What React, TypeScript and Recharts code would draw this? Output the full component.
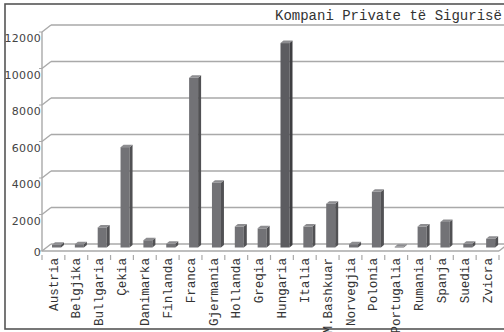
import { BarChart, Bar, XAxis, YAxis, CartesianGrid, Cell, Customized } from "recharts";

const countries = [
  "Austria", "Belgjika", "Bullgaria", "Çekia", "Danimarka", "Finlanda", "Franca",
  "Gjermania", "Hollanda", "Greqia", "Hungaria", "Italia", "M.Bashkuar", "Norvegjia",
  "Polonia", "Portugalia", "Rumania", "Spanja", "Suedia", "Zvicra",
];
const companies = [
  150, 180, 1100, 5500, 400, 200, 9300,
  3550, 1150, 1050, 11200, 1150, 2400, 180,
  3050, 40, 1150, 1400, 200, 480,
];
const yTicks = [0, 2000, 4000, 6000, 8000, 10000, 12000];
const seriesName = "Kompani Private të Sigurisë";

const data = countries.map((c, i) => ({ name: c, value: companies[i] }));

const DX = 9; // depth of the 3D wall
const DY = 7;
const GRID = "#a9a9a9";
const MONO = "'Liberation Mono', monospace";

const Bar3D = (props: any) => {
  const { x, y, width, height, fill } = props;
  if (height == null || isNaN(height)) return null;
  const bx = x + 3;
  const by = y - 3.5;
  const d = 3;
  const e = 2.5;
  const side = fill === "#5c5c60" ? "#3f3f42" : "#515154";
  return (
    <g>
      <rect x={bx} y={by} width={width} height={height} fill={fill} />
      <polygon
        points={`${bx + width},${by} ${bx + width + d},${by - e} ${bx + width + d},${by + height - e} ${bx + width},${by + height}`}
        fill={side}
      />
      <polygon
        points={`${bx},${by} ${bx + d},${by - e} ${bx + width + d},${by - e} ${bx + width},${by}`}
        fill="#8d8d90"
      />
    </g>
  );
};

const gridLine = (p: any) => {
  const { x1, x2, y1, index } = p;
  const isFloor = index === 0;
  return (
    <g key={`g-${index}`}>
      <line x1={x1 + DX} y1={y1 - DY} x2={x2 + DX} y2={y1 - DY} stroke={GRID} strokeWidth={1.6} />
      <line x1={x1} y1={y1} x2={x1 + DX} y2={y1 - DY} stroke={GRID} strokeWidth={1.4} />
      {isFloor && (
        <line x1={x2} y1={y1} x2={x2 + DX} y2={y1 - DY} stroke={GRID} strokeWidth={1.4} />
      )}
    </g>
  );
};

const XTick = (props: any) => {
  const { x, y, payload, index, visibleTicksCount } = props;
  const half = payload?.offset ?? 11.4;
  const last = index === (visibleTicksCount ?? countries.length) - 1;
  const ty = y - 1;
  return (
    <g>
      <line x1={x - half} y1={y - 4} x2={x - half} y2={y + 1} stroke={GRID} strokeWidth={1.2} />
      {last && <line x1={x + half} y1={y - 4} x2={x + half} y2={y + 1} stroke={GRID} strokeWidth={1.2} />}
      <text
        x={x}
        y={ty}
        dy="0.33em"
        transform={`rotate(-90, ${x}, ${ty})`}
        textAnchor="end"
        fontFamily={MONO}
        fontSize={12.6}
        fill="#333"
      >
        {payload.value}
      </text>
    </g>
  );
};

const YTick = (props: any) => {
  const { y, payload } = props;
  const off = payload.value === 0 ? 1 : 6.5;
  return (
    <text
      x={41}
      y={y + off}
      dy="0.35em"
      textAnchor="end"
      fontFamily="'DejaVu Sans', sans-serif"
      fontSize={11}
      letterSpacing={0.3}
      fill="#444"
    >
      {payload.value}
    </text>
  );
};

const Frame = () => (
  <g>
    <rect x={5} y={4} width={520} height={325} fill="none" stroke="#555" strokeWidth={1.6} />
    <text x={275} y={20} fontFamily={MONO} fontSize={14} fill="#333">
      {seriesName}
    </text>
  </g>
);

export default function App() {
  return (
    <div style={{ position: "fixed", left: 0, top: 0, width: 504, height: 332, background: "#fff" }}>
      <BarChart
        width={504}
        height={332}
        data={data}
        margin={{ top: 32, right: 5, left: 0, bottom: 0 }}
        barCategoryGap={0}
      >
        <Customized component={Frame} />
        <CartesianGrid vertical={false} horizontal={gridLine} stroke={GRID} />
        <XAxis
          dataKey="name"
          interval={0}
          height={81}
          axisLine={{ stroke: GRID, strokeWidth: 1.4 }}
          tickLine={false}
          tick={<XTick />}
        />
        <YAxis
          domain={[0, 12000]}
          ticks={yTicks}
          width={42}
          axisLine={{ stroke: GRID, strokeWidth: 1.4 }}
          tickLine={{ stroke: GRID }}
          tickSize={3}
          tick={<YTick />}
        />
        <Bar dataKey="value" barSize={9} shape={<Bar3D />} isAnimationActive={false}>
          {data.map((d) => (
            <Cell key={d.name} fill={d.name === "Hungaria" ? "#5c5c60" : "#727276"} />
          ))}
        </Bar>
      </BarChart>
    </div>
  );
}
